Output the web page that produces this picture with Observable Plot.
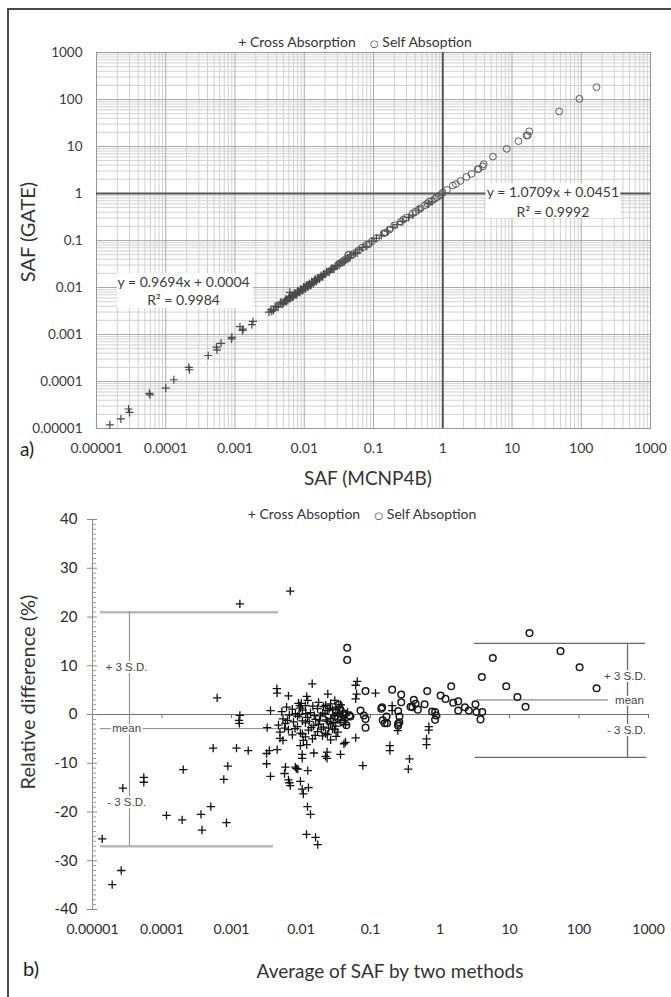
<!DOCTYPE html>
<html>
<head>
<meta charset="utf-8">
<script src="https://cdn.jsdelivr.net/npm/d3@7"></script>
<script src="https://cdn.jsdelivr.net/npm/@observablehq/plot@0.6"></script>
<style>
html, body { margin: 0; padding: 0; background: #fff; }
#wrap { position: relative; width: 671px; height: 997px; overflow: hidden; font-family: Lato, sans-serif; color: #333; }
#wrap svg { position: absolute; left: 0; }
#frame { position: absolute; left: 7px; top: 8px; width: 720px; height: 1100px; border-left: 2px solid #4a4a4a; border-top: 2px solid #4a4a4a; pointer-events: none; }
.t { position: absolute; white-space: nowrap; transform: translate(-50%, -50%); }
.rot { transform: translate(-50%, -50%) rotate(-90deg); }
</style>
</head>
<body>
<div id="wrap">
  <div id="chartA"></div>
  <div id="chartB"></div>
  <div class="t" style="left:355px; top:41px; font-size:14px; color:#333;">+ Cross Absorption&nbsp;&nbsp;&nbsp;&nbsp;<span style="font-family:'DejaVu Sans'; font-size:10px;">○</span> Self Absoption</div>
  <div class="t rot" style="left:27px; top:232px; font-size:20px; color:#333;">SAF (GATE)</div>
  <div class="t" style="left:368px; top:477px; font-size:19px; color:#333;">SAF (MCNP4B)</div>
  <div class="t" style="left:27px; top:448px; font-size:19px; color:#222;">a)</div>
  <div class="t" style="left:362px; top:513px; font-size:14px; color:#333;">+ Cross Absoption&nbsp;&nbsp;&nbsp;&nbsp;<span style="font-family:'DejaVu Sans'; font-size:10px;">○</span> Self Absoption</div>
  <div class="t rot" style="left:27px; top:692px; font-size:20px; color:#333;">Relative difference (%)</div>
  <div class="t" style="left:390px; top:970px; font-size:19px; color:#333;">Average of SAF by two methods</div>
  <div class="t" style="left:31px; top:968px; font-size:20px; color:#222;">b)</div>
  <div id="frame"></div>
</div>
<script>
// ---------- tick values / labels ----------
const decades = [0.00001, 0.0001, 0.001, 0.01, 0.1, 1, 10, 100, 1000];
const decadeLabels = ["0.00001", "0.0001", "0.001", "0.01", "0.1", "1", "10", "100", "1000"];
const diffTicks = [-40, -30, -20, -10, 0, 10, 20, 30, 40];
const diffTickLabels = ["-40", "-30", "-20", "-10", "0", "10", "20", "30", "40"];

// ---------- panel a: SAF GATE vs SAF MCNP4B ----------
const crossMCNP = [1.56e-5, 2.25e-5, 2.9e-5, 3.0e-5, 5.8e-5, 5.9e-5, 1.0e-4, 1.31e-4, 2.15e-4, 2.2e-4, 4.1e-4, 5.4e-4, 5.5e-4, 6.3e-4, 8.9e-4, 9.0e-4, 1.18e-3, 1.28e-3, 1.31e-3, 1.82e-3, 1.75e-3, 6.2e-3,
  0.0031, 0.0033, 0.0036, 0.0040, 0.0045, 0.0048, 0.0052, 0.0055, 0.0060, 0.0063, 0.0066, 0.0070, 0.0074, 0.0078, 0.0082, 0.0086, 0.0090, 0.0095, 0.010, 0.0105,
  0.011, 0.0115, 0.012, 0.0125, 0.013, 0.0138, 0.0145, 0.015, 0.016, 0.017, 0.018, 0.019, 0.020, 0.022, 0.024, 0.026, 0.028, 0.030, 0.033, 0.036,
  0.040, 0.044, 0.048, 0.055, 0.062, 0.070, 0.080, 0.095, 0.11, 0.13, 0.16, 0.19, 0.22, 0.26, 0.32, 0.37, 0.45, 0.62, 0.70,
  0.0034, 0.0038, 0.0042, 0.0046, 0.0050, 0.0054, 0.0058, 0.0062, 0.0068, 0.0072, 0.0076, 0.0080, 0.0085, 0.0088, 0.0093, 0.0098, 0.0103, 0.0108, 0.0113, 0.0118,
  0.0123, 0.0128, 0.0135, 0.0142, 0.0148, 0.0155, 0.0165, 0.0175, 0.0185, 0.021, 0.023, 0.025, 0.027, 0.029, 0.032, 0.035, 0.038, 0.042, 0.046, 0.052, 0.058];
const crossGATE = [1.2e-5, 1.6e-5, 2.6e-5, 2.2e-5, 5.6e-5, 5.2e-5, 7.2e-5, 1.09e-4, 2.0e-4, 1.78e-4, 3.57e-4, 5.4e-4, 4.7e-4, 6.5e-4, 8.1e-4, 8.7e-4, 1.47e-3, 1.22e-3, 1.30e-3, 1.9e-3, 1.62e-3, 7.9e-3,
  0.0030, 0.0034, 0.0033, 0.0039, 0.0047, 0.0044, 0.0051, 0.0050, 0.0061, 0.0058, 0.0068, 0.0065, 0.0075, 0.0071, 0.0083, 0.0080, 0.0091, 0.0088, 0.0101, 0.0095,
  0.0112, 0.0108, 0.0119, 0.0113, 0.0131, 0.0129, 0.0150, 0.0140, 0.0159, 0.0163, 0.0171, 0.0193, 0.0195, 0.0214, 0.0238, 0.0251, 0.0283, 0.0291, 0.0332, 0.0341,
  0.0398, 0.0420, 0.0495, 0.0540, 0.0655, 0.0712, 0.0755, 0.097, 0.112, 0.129, 0.158, 0.192, 0.218, 0.255, 0.31, 0.345, 0.44, 0.60, 0.67,
  0.0031, 0.0040, 0.0038, 0.0049, 0.0046, 0.0056, 0.0053, 0.0065, 0.0062, 0.0074, 0.0069, 0.0084, 0.0078, 0.0092, 0.0085, 0.0102, 0.0094, 0.0111, 0.0103, 0.0122,
  0.0111, 0.0133, 0.0122, 0.0146, 0.0135, 0.0160, 0.0150, 0.0180, 0.0168, 0.0215, 0.0212, 0.0258, 0.0248, 0.0296, 0.0298, 0.0358, 0.0352, 0.0430, 0.0430, 0.0532, 0.0540];
const selfMCNP = [0.043, 0.044, 0.050, 0.060, 0.070, 0.080, 0.085, 0.095, 0.11, 0.14, 0.15, 0.17, 0.20, 0.25, 0.27, 0.30, 0.37, 0.40, 0.45, 0.48,
  0.55, 0.60, 0.64, 0.70, 0.77, 0.82, 0.88, 0.95, 1.0, 1.15, 1.4, 1.55, 1.8, 2.2, 2.6, 3.2, 3.3, 3.8, 3.9, 5.3,
  8.4, 12.4, 16.2, 16.9, 17.8, 48, 94, 166, 0.032, 0.034, 0.037, 0.040];
const selfGATE = [0.049, 0.050, 0.050, 0.061, 0.071, 0.082, 0.083, 0.096, 0.113, 0.142, 0.148, 0.171, 0.21, 0.25, 0.28, 0.305, 0.38, 0.41, 0.46, 0.485,
  0.56, 0.61, 0.67, 0.70, 0.775, 0.83, 0.88, 0.96, 1.04, 1.19, 1.48, 1.59, 1.85, 2.25, 2.62, 3.28, 3.32, 3.78, 4.2, 6.1,
  8.9, 13.0, 17.1, 17.2, 21.0, 55.6, 103.5, 183, 0.032, 0.034, 0.037, 0.040];
const fitLabels = ["y = 0.9694x + 0.0004", "R² = 0.9984", "y = 1.0709x + 0.0451", "R² = 0.9992"];

// ---------- panel b: relative difference vs average ----------
const crossAvg = [1.38e-5, 1.92e-5, 2.59e-5, 2.73e-5, 5.47e-5, 5.47e-5, 1.16e-4, 1.95e-4, 2.02e-4, 3.64e-4, 3.76e-4, 5.04e-4, 8.47e-4, 6.22e-4, 5.45e-4,
  1.18e-3, 1.74e-3, 7.75e-4, 8.85e-4, 1.32e-3, 1.28e-3, 1.30e-3, 1.32e-3, 7.0e-3, 3.64e-3, 3.26e-3, 3.2e-3, 3.5e-3, 3.2e-3, 3.64e-3,
  4.54e-3, 4.5e-3, 4.54e-3, 6.6e-3, 0.0145, 5.98e-3, 5.8e-3, 6.6e-3, 6.8e-3, 7.0e-3, 8.6e-3, 0.0125, 9.8e-3, 0.0108, 0.0128,
  0.0104, 0.0104, 0.0104, 0.0153, 0.0121, 0.0124, 0.0137, 0.012, 0.0162, 0.0174, 0.0225, 0.0237, 0.0237, 0.0243, 0.0121,
  0.0125, 0.0101, 9.6e-3, 0.0306, 0.0644, 0.0612, 0.063, 0.0612, 0.118, 0.205, 0.205, 0.247, 0.0612, 0.0437, 0.0415,
  0.037, 0.0775, 0.19, 0.19, 0.364, 0.35, 0.69, 0.69, 0.64, 0.64, 9.8e-3, 0.0108, 8.3e-3, 9.0e-3,
  9.2e-3, 0.0116, 0.0179, 0.0211, 0.0267, 0.0316, 0.0372,
  5.3e-3, 7.5e-3, 8.3e-3, 0.0105, 0.0137, 0.0173, 0.0204, 0.0241, 0.0285, 0.0338, 0.0398, 0.0468,
  5.5e-3, 8.9e-3, 0.0105, 0.0124, 0.0162, 0.0191, 0.0241, 0.0267, 0.0338, 0.0398,
  4.74e-3, 5.95e-3, 8.9e-3, 0.0116, 0.0151, 0.0179, 0.0211, 0.0267, 0.0316, 0.0372, 0.0437,
  4.98e-3, 6.6e-3, 9.8e-3, 0.0128, 0.0173, 0.0225, 0.0285, 0.0338,
  4.98e-3, 5.5e-3, 0.0116, 0.0146, 0.0204, 0.0267,
  0.0062, 0.0098, 0.0148, 0.0226, 0.0255, 0.0350,
  0.0068, 0.0094, 0.0117, 0.0155, 0.0222, 0.0300, 0.0360, 0.0440,
  0.0064, 0.0078, 0.0131, 0.0185, 0.0230, 0.0290, 0.0420,
  0.0058, 0.0082, 0.0140, 0.0196, 0.0250, 0.0305,
  0.0075, 0.0105, 0.0160, 0.0240, 0.0320];
const crossDiff = [-25.5, -34.9, -32.0, -15.1, -12.9, -13.9, -20.7, -21.6, -11.3, -20.5, -23.7, -18.9, -22.2, 3.4, -6.9,
  -6.9, -7.4, -13.3, -10.6, -0.2, -1.2, -1.8, 22.7, 25.3, 0.8, -2.7, -8.0, -7.4, -10.1, -12.7,
  -7.2, 5.3, 4.4, 3.8, 6.3, -10.8, -12.1, -13.4, -14.0, -14.6, -11.1, -11.5, -13.7, -16.3, -15.0,
  -15.3, -8.2, -9.0, -7.9, -6.2, -18.9, -20.5, -24.6, -25.2, -26.7, -8.6, -9.0, -7.7, 4.2, 3.7,
  2.9, 2.3, 1.8, 2.9, 6.8, 6.0, 4.2, 3.2, 4.4, 1.8, 0.8, -3.3, -4.8, -5.7, -6.0,
  -8.2, -10.5, -6.4, -7.4, -9.1, -11.2, -2.5, -3.2, -5.0, -6.2, -6.4, -5.3, -10.8, -11.2,
  2.3, 1.8, 2.5, 1.6, 2.2, 1.4, 2.0,
  0.6, 1.1, 0.2, 0.9, 0.4, 1.2, 0.3, 0.8, 1.0, 0.1, 0.7, 0.5,
  -0.9, -0.4, -1.3, -0.6, -1.0, -0.3, -1.4, -0.8, -1.1, -0.5,
  -2.2, -1.8, -2.5, -1.7, -2.3, -2.0, -2.6, -1.9, -2.4, -1.6, -2.1,
  -3.6, -3.1, -3.8, -3.2, -3.5, -3.9, -3.0, -3.6,
  -4.9, -5.3, -4.6, -5.0, -4.4, -5.2,
  1.5, 1.3, 1.7, 1.9, 1.2, 1.6,
  -0.1, 0.0, 0.2, -0.2, 0.1, -0.3, 0.3, -0.2,
  -1.2, -1.5, -1.4, -1.3, -1.1, -1.6, -1.2,
  -2.8, -2.9, -2.7, -3.0, -2.8, -3.1,
  -4.2, -4.0, -4.3, -4.1, -4.5];
const selfAvg = [0.0462, 0.0462, 0.0848, 0.205, 0.277, 0.277, 0.147, 0.0848, 0.0848, 0.17, 0.173, 0.261, 0.25, 0.25, 0.377,
  0.0515, 0.0718, 0.0802, 0.655, 1.45, 1.02, 1.2, 1.83, 1.55, 2.28, 2.6, 1.83, 3.24, 3.35, 3.83,
  4.05, 4.0, 5.75, 8.98, 13.0, 17.0, 19.4, 54.2, 102, 179, 0.42, 0.445, 0.40, 0.48, 0.60,
  0.77, 0.85, 0.88, 0.85, 0.26, 0.25, 0.143, 0.15, 0.16, 0.05,
  0.032, 0.034, 0.037, 0.040, 0.042, 0.045, 0.035, 0.031];
const selfDiff = [13.7, 11.2, 4.8, 5.1, 4.1, 2.5, 1.5, -0.9, -2.7, -0.4, -1.8, -0.4, -1.9, 0.7, 1.6,
  -0.4, 0.8, -0.2, 4.8, 5.8, 3.9, 3.2, 2.7, 2.4, 1.5, 0.8, 0.8, 2.1, 0.5, -1.0,
  0.5, 7.7, 11.6, 5.8, 3.6, 1.6, 16.7, 13.0, 9.7, 5.4, 3.0, 2.2, 1.5, 1.0, 2.1,
  0.6, 0.5, -0.2, -1.1, -1.6, -2.3, 1.2, -1.2, -1.8, -0.2,
  0.5, -0.8, 1.0, -1.5, 0.2, -2.2, 2.0, -0.3];
// limits of agreement (mean, +3 S.D., -3 S.D.) for the two groups
const crossLimits = [-2.9, 21.0, -27.0];
const selfLimits = [3.0, 14.6, -8.8];
const limitLabels = ["mean", "+ 3 S.D.", "- 3 S.D."];

// ---------- build tables ----------
const crossA = crossMCNP.map((x, i) => ({x, y: crossGATE[i]}));
const selfA = selfMCNP.map((x, i) => ({x, y: selfGATE[i]}));
const crossB = crossAvg.map((x, i) => ({x, y: crossDiff[i]}));
const selfB = selfAvg.map((x, i) => ({x, y: selfDiff[i]}));
const minors = decades.slice(0, -1).flatMap(d => [2, 3, 4, 5, 6, 7, 8, 9].map(k => d * k));
const fmtDec = d => decadeLabels[decades.indexOf(d)];
const fmtDiff = d => diffTickLabels[diffTicks.indexOf(d)];

// annotation placement (in data units)
const eqBoxes = [
  {x1: 2.0e-5, x2: 1.86e-3, y1: 0.0036, y2: 0.020},
  {x1: 4.2, x2: 373, y1: 0.294, y2: 1.63}
];
const eqText = [
  {x: 1.81e-4, y: 0.0128, text: fitLabels[0]},
  {x: 1.81e-4, y: 0.0053, text: fitLabels[1]},
  {x: 39, y: 1.05, text: fitLabels[2]},
  {x: 39, y: 0.394, text: fitLabels[3]}
];

const chartA = Plot.plot({
  width: 671, height: 490,
  marginLeft: 96, marginRight: 21, marginTop: 52, marginBottom: 62,
  style: {fontFamily: "Lato, sans-serif", background: "transparent", overflow: "visible"},
  x: {type: "log", domain: [1e-5, 1000]},
  y: {type: "log", domain: [1e-5, 1000]},
  marks: [
    Plot.ruleX(minors, {stroke: "#d0d0d0", strokeWidth: 1}),
    Plot.ruleY(minors, {stroke: "#d0d0d0", strokeWidth: 1}),
    Plot.ruleX(decades, {stroke: "#aaaaaa", strokeWidth: 1}),
    Plot.ruleY(decades, {stroke: "#aaaaaa", strokeWidth: 1}),
    Plot.frame({stroke: "#969696"}),
    Plot.ruleX([1], {stroke: "#555", strokeWidth: 2}),
    Plot.ruleY([1], {stroke: "#555", strokeWidth: 2}),
    Plot.dot(crossA, {x: "x", y: "y", symbol: "plus", r: 2.7, stroke: "#4a4a4a", strokeWidth: 1.2}),
    Plot.dot(selfA, {x: "x", y: "y", symbol: "circle", r: 3.4, stroke: "#5a5a5a", strokeWidth: 1}),
    Plot.rect(eqBoxes, {x1: "x1", x2: "x2", y1: "y1", y2: "y2", fill: "white"}),
    Plot.text(eqText, {x: "x", y: "y", text: "text", fontSize: 14, fill: "#3a3a3a"}),
    Plot.axisX(decades, {anchor: "bottom", tickSize: 0, tickPadding: 15, tickFormat: fmtDec, fontSize: 14, color: "#3a3a3a", label: null}),
    Plot.axisY(decades, {anchor: "left", tickSize: 0, tickPadding: 14, tickFormat: fmtDec, fontSize: 13.5, color: "#3a3a3a", label: null})
  ]
});
chartA.style.top = "0px";
document.getElementById("chartA").appendChild(chartA);

const yMinor = d3.range(-40, 41).filter(v => v % 10 !== 0);
const tickPx = 10 ** (5 / 69.5);
const xMin = 1e-5;

const leftRules = [
  {y: crossLimits[1], x1: 1.3e-5, x2: 4.74e-3},
  {y: crossLimits[2], x1: 1.3e-5, x2: 4.0e-3}
];
const leftMean = [{y: crossLimits[0], x1: 1.3e-5, x2: 4.74e-3}];
const rightRules = [
  {y: selfLimits[1], x1: 3.13, x2: 906},
  {y: selfLimits[2], x1: 3.2, x2: 943}
];
const rightMean = [{y: selfLimits[0], x1: 3.4, x2: 265}];
const limitText = [
  {x: 3.08e-5, y: 9.7, text: limitLabels[1]},
  {x: 3.1e-5, y: crossLimits[0], text: limitLabels[0]},
  {x: 3.1e-5, y: -18.1, text: limitLabels[2]},
  {x: 459, y: 7.8, text: limitLabels[1]},
  {x: 533, y: selfLimits[0], text: limitLabels[0]},
  {x: 483, y: -3.3, text: limitLabels[2]}
];

const chartB = Plot.plot({
  width: 671, height: 507,
  marginLeft: 92, marginRight: 23, marginTop: 29, marginBottom: 88,
  style: {fontFamily: "Lato, sans-serif", background: "transparent", overflow: "visible"},
  x: {type: "log", domain: [1e-5, 1000]},
  y: {domain: [-40, 40]},
  marks: [
    Plot.ruleY([0], {x1: xMin, x2: 1000, stroke: "#707070", strokeWidth: 1}),
    Plot.ruleX(decades.slice(1), {y1: 0, y2: -0.85, stroke: "#707070"}),
    Plot.ruleX([xMin], {y1: -40, y2: 40, stroke: "#8a8a8a"}),
    Plot.ruleY(diffTicks, {x1: xMin / tickPx, x2: xMin * tickPx, stroke: "#8a8a8a"}),
    Plot.ruleY(yMinor, {x1: xMin, x2: xMin * 10 ** (4 / 69.5), stroke: "#9a9a9a"}),
    Plot.ruleY(leftRules, {y: "y", x1: "x1", x2: "x2", stroke: "#b8b8b8", strokeWidth: 2.5}),
    Plot.ruleY(leftMean, {y: "y", x1: "x1", x2: "x2", stroke: "#8a8a8a", strokeWidth: 1}),
    Plot.ruleX([3.4e-5], {y1: crossLimits[1], y2: crossLimits[2], stroke: "#8a8a8a", strokeWidth: 1}),
    Plot.ruleY(rightRules, {y: "y", x1: "x1", x2: "x2", stroke: "#6a6a6a", strokeWidth: 1.3}),
    Plot.ruleY(rightMean, {y: "y", x1: "x1", x2: "x2", stroke: "#ababab", strokeWidth: 1.8}),
    Plot.ruleX([499], {y1: selfLimits[1], y2: selfLimits[2], stroke: "#6a6a6a", strokeWidth: 1.3}),
    Plot.text(limitText, {x: "x", y: "y", text: "text", fontSize: 11.5, fontFamily: "Liberation Sans, Arial, sans-serif", fill: "#444", stroke: "white", strokeWidth: 4}),
    Plot.dot(crossB, {x: "x", y: "y", symbol: "plus", r: 2.8, stroke: "#111", strokeWidth: 1.3}),
    Plot.dot(selfB, {x: "x", y: "y", symbol: "circle", r: 3.3, stroke: "#1a1a1a", strokeWidth: 1.5}),
    Plot.axisX(decades, {anchor: "bottom", tickSize: 0, tickPadding: 15, tickFormat: fmtDec, fontSize: 14, color: "#2a2a2a", label: null}),
    Plot.axisY(diffTicks, {anchor: "left", tickSize: 0, tickPadding: 15, tickFormat: fmtDiff, fontSize: 15, color: "#2a2a2a", label: null})
  ]
});
chartB.style.top = "490px";
document.getElementById("chartB").appendChild(chartB);
</script>
</body>
</html>
